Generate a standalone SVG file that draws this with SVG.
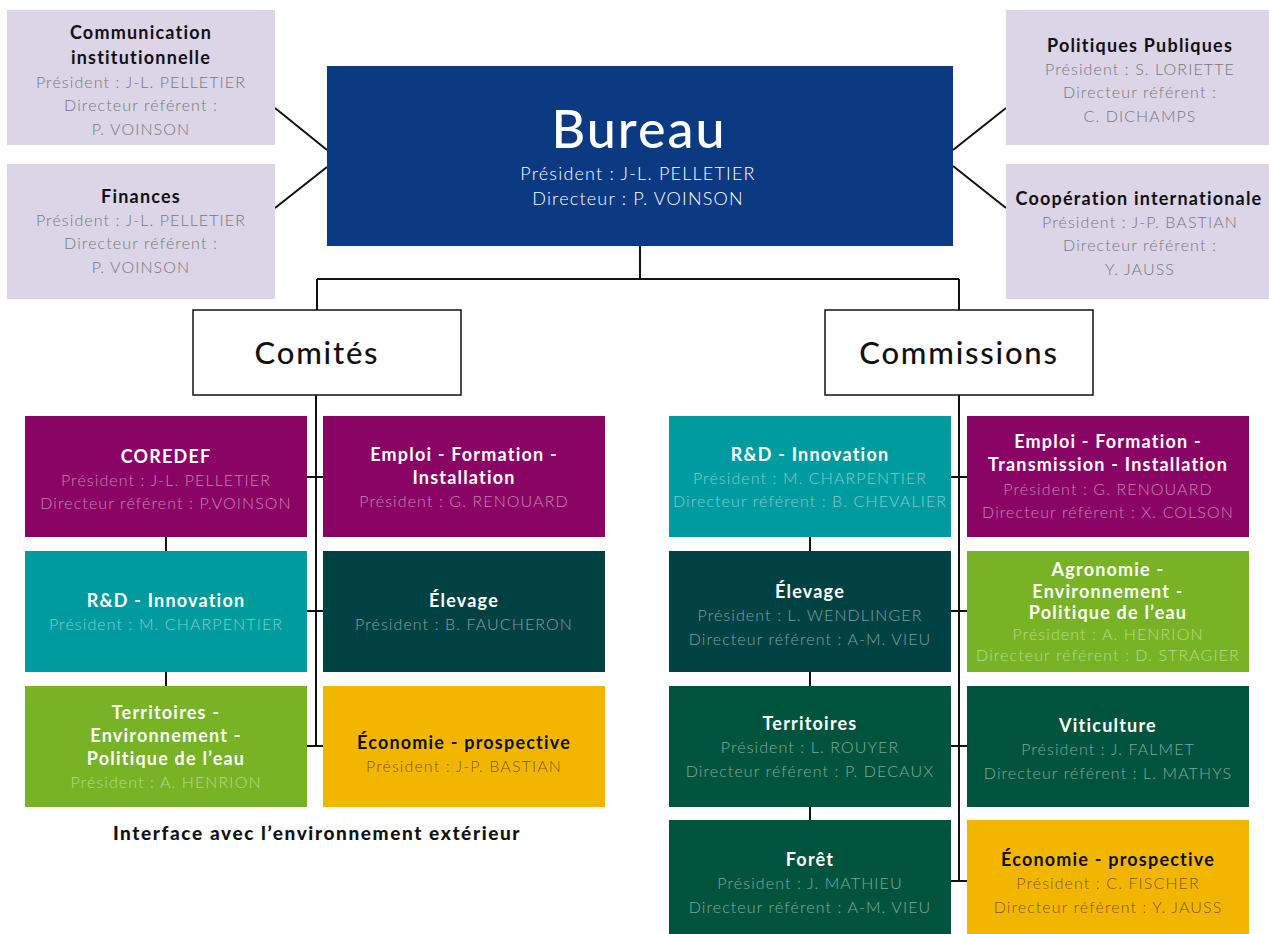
<svg xmlns="http://www.w3.org/2000/svg" width="1269" height="934" viewBox="0 0 1269 934">
<style>
text{font-family:Lato,"Noto Sans",sans-serif;text-anchor:middle;dominant-baseline:central}
.t{font-size:18px;font-weight:700;letter-spacing:1.2px}
.s{font-size:16px;font-weight:300;letter-spacing:1.1px}
.w{fill:#fff}
.sw{fill:#fff;fill-opacity:0.5}
.k{fill:#111}
.sg{fill:#777}
.sy{fill:#000;fill-opacity:0.55}
.lav{fill:#dcd4e7}
.pur{fill:#8a0465}
.teal{fill:#009b9e}
.dteal{fill:#004143}
.grn{fill:#77b324}
.yel{fill:#f3b600}
.dgrn{fill:#00533c}
.ln{stroke:#111;stroke-width:2;fill:none}
</style>
<rect width="1269" height="934" fill="#fff"/>
<g id="connectors" class="ln">
<path d="M275,108 L327,150 M275,208 L327,167 M953,150 L1006,108 M953,166 L1006,208"/>
<path d="M640,246 V279 M317,279 H959 M317,279 V310 M959,279 V310"/>
<path d="M316,395 V746 M307,477 H323 M307,611 H323 M307,746 H323"/>
<path d="M166,537 V551 M166,672 V686"/>
<path d="M959,395 V881 M951,477 H967 M951,611 H967 M951,746 H967 M951,881 H967"/>
<path d="M810,537 V551 M810,672 V686 M810,807 V820"/>
</g>
<g id="bureau">
<rect x="327" y="66" width="626" height="180" fill="#0c3a82"/>
<text x="639" y="128" class="w" style="font-size:52px;font-weight:500;letter-spacing:2px">Bureau</text>
<text x="638" y="173" class="s w" style="font-size:18px;letter-spacing:1.2px">Président :  J-L. PELLETIER</text>
<text x="638" y="198" class="s w" style="font-size:18px;letter-spacing:1.2px">Directeur : P. VOINSON</text>
</g>
<g id="comm-inst">
<rect x="7" y="10" width="268" height="135" class="lav"/>
<text x="141" y="32" class="t k">Communication</text>
<text x="141" y="57" class="t k">institutionnelle</text>
<text x="141" y="81" class="s sg">Président : J-L. PELLETIER</text>
<text x="141" y="104" class="s sg">Directeur référent :</text>
<text x="141" y="128" class="s sg">P. VOINSON</text>
</g>
<g id="finances">
<rect x="7" y="164" width="268" height="135" class="lav"/>
<text x="141" y="196" class="t k">Finances</text>
<text x="141" y="219" class="s sg">Président : J-L. PELLETIER</text>
<text x="141" y="242" class="s sg">Directeur référent :</text>
<text x="141" y="266" class="s sg">P. VOINSON</text>
</g>
<g id="politiques">
<rect x="1006" y="10" width="263" height="135" class="lav"/>
<text x="1140" y="45" class="t k">Politiques Publiques</text>
<text x="1140" y="68" class="s sg">Président : S. LORIETTE</text>
<text x="1140" y="91" class="s sg">Directeur référent :</text>
<text x="1140" y="115" class="s sg">C. DICHAMPS</text>
</g>
<g id="cooperation">
<rect x="1006" y="164" width="263" height="135" class="lav"/>
<text x="1139" y="198" class="t k">Coopération internationale</text>
<text x="1140" y="221" class="s sg">Président : J-P. BASTIAN</text>
<text x="1140" y="244" class="s sg">Directeur référent :</text>
<text x="1140" y="268" class="s sg">Y. JAUSS</text>
</g>
<g id="comites">
<rect x="193" y="310" width="268" height="85" fill="#fff" stroke="#111" stroke-width="1.5"/>
<text x="317" y="352" class="k" style="font-size:31px;font-weight:500;letter-spacing:1.8px">Comités</text>
</g>
<g id="commissions">
<rect x="825" y="310" width="268" height="85" fill="#fff" stroke="#111" stroke-width="1.5"/>
<text x="959" y="352" class="k" style="font-size:31px;font-weight:500;letter-spacing:1.8px">Commissions</text>
</g>
<g id="c-coredef">
<rect x="25" y="416" width="282" height="121" class="pur"/>
<text x="166" y="456" class="t w">COREDEF</text>
<text x="166" y="479" class="s sw">Président : J-L. PELLETIER</text>
<text x="166" y="502" class="s sw">Directeur référent : P.VOINSON</text>
</g>
<g id="c-emploi">
<rect x="323" y="416" width="282" height="121" class="pur"/>
<text x="464" y="454" class="t w">Emploi - Formation -</text>
<text x="464" y="477" class="t w">Installation</text>
<text x="464" y="500" class="s sw">Président : G. RENOUARD</text>
</g>
<g id="c-rd">
<rect x="25" y="551" width="282" height="121" class="teal"/>
<text x="166" y="600" class="t w">R&amp;D - Innovation</text>
<text x="166" y="623" class="s sw">Président : M. CHARPENTIER</text>
</g>
<g id="c-elevage">
<rect x="323" y="551" width="282" height="121" class="dteal"/>
<text x="464" y="600" class="t w">Élevage</text>
<text x="464" y="623" class="s sw">Président : B. FAUCHERON</text>
</g>
<g id="c-territoires">
<rect x="25" y="686" width="282" height="121" class="grn"/>
<text x="166" y="712" class="t w">Territoires -</text>
<text x="166" y="735" class="t w">Environnement -</text>
<text x="166" y="758" class="t w">Politique de l’eau</text>
<text x="166" y="781" class="s sw">Président : A. HENRION</text>
</g>
<g id="c-economie">
<rect x="323" y="686" width="282" height="121" class="yel"/>
<text x="464" y="742" class="t k">Économie - prospective</text>
<text x="464" y="765" class="s sy">Président : J-P. BASTIAN</text>
</g>
<g id="interface">
<text x="317" y="832" class="k" style="font-size:19px;font-weight:900;letter-spacing:1.6px">Interface avec l’environnement extérieur</text>
</g>
<g id="m-rd">
<rect x="669" y="416" width="282" height="121" class="teal"/>
<text x="810" y="454" class="t w">R&amp;D - Innovation</text>
<text x="810" y="477" class="s sw">Président : M. CHARPENTIER</text>
<text x="810" y="500" class="s sw">Directeur référent : B. CHEVALIER</text>
</g>
<g id="m-emploi">
<rect x="967" y="416" width="282" height="121" class="pur"/>
<text x="1108" y="441" class="t w">Emploi - Formation -</text>
<text x="1108" y="464" class="t w">Transmission - Installation</text>
<text x="1108" y="488" class="s sw">Président : G. RENOUARD</text>
<text x="1108" y="511" class="s sw">Directeur référent : X. COLSON</text>
</g>
<g id="m-elevage">
<rect x="669" y="551" width="282" height="121" class="dteal"/>
<text x="810" y="591" class="t w">Élevage</text>
<text x="810" y="614" class="s sw">Président : L. WENDLINGER</text>
<text x="810" y="638" class="s sw">Directeur référent : A-M. VIEU</text>
</g>
<g id="m-agronomie">
<rect x="967" y="551" width="282" height="121" class="grn"/>
<text x="1108" y="569" class="t w">Agronomie -</text>
<text x="1108" y="591" class="t w">Environnement -</text>
<text x="1108" y="612" class="t w">Politique de l’eau</text>
<text x="1108" y="633" class="s sw">Président : A. HENRION</text>
<text x="1108" y="654" class="s sw">Directeur référent : D. STRAGIER</text>
</g>
<g id="m-territoires">
<rect x="669" y="686" width="282" height="121" class="dgrn"/>
<text x="810" y="723" class="t w">Territoires</text>
<text x="810" y="746" class="s sw">Président :  L. ROUYER</text>
<text x="810" y="770" class="s sw">Directeur référent : P. DECAUX</text>
</g>
<g id="m-viticulture">
<rect x="967" y="686" width="282" height="121" class="dgrn"/>
<text x="1108" y="725" class="t w">Viticulture</text>
<text x="1108" y="748" class="s sw">Président : J. FALMET</text>
<text x="1108" y="772" class="s sw">Directeur référent : L. MATHYS</text>
</g>
<g id="m-foret">
<rect x="669" y="820" width="282" height="114" class="dgrn"/>
<text x="810" y="859" class="t w">Forêt</text>
<text x="810" y="882" class="s sw">Président : J. MATHIEU</text>
<text x="810" y="906" class="s sw">Directeur référent : A-M. VIEU</text>
</g>
<g id="m-economie">
<rect x="967" y="820" width="282" height="114" class="yel"/>
<text x="1108" y="859" class="t k">Économie - prospective</text>
<text x="1108" y="882" class="s sy">Président : C. FISCHER</text>
<text x="1108" y="906" class="s sy">Directeur référent : Y. JAUSS</text>
</g>
</svg>
